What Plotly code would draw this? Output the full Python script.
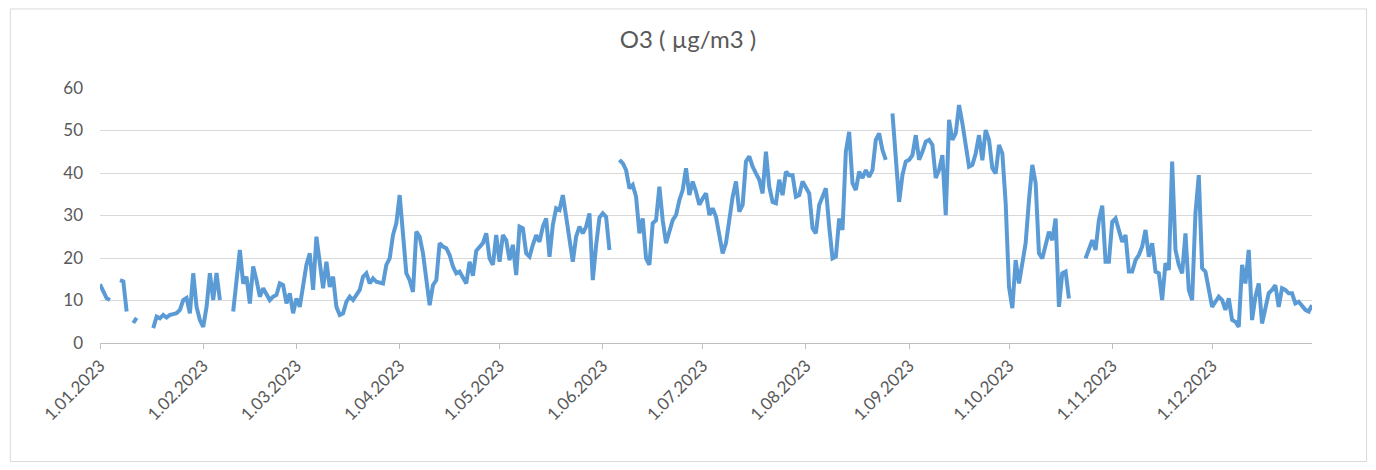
import pandas as pd
import plotly.graph_objects as go

# daily O3 values (µg/m3), None = missing day
jan = [13.8, 12, 10.5, 10.1, None, None, 14.8, 14.5, 7.4, None, 4.7, 5.9, None, None, None, None,
       3.5, 6.2, 5.8, 6.6, 6.0, 6.6, 6.8, 7.0, 7.8, 10.1, 10.6, 7.0, 16.4, 8.5, 5.4]
feb = [3.8, 8.5, 16.4, 10.1, 16.5, 10.1, None, None, None, 7.4, 15.6, 21.9, 14, 15.6, 9.3, 18,
       14.8, 10.9, 12.9, 11.7, 10.1, 10.9, 11.3, 14, 13.6, 9.3, 11.7, 7]
mar = [10.5, 8.5, 13.2, 18.4, 21.1, 12.5, 25, 19.5, 12.9, 19.1, 13.2, 15.6, 8.5, 6.6, 7, 9.7,
       10.9, 10.1, 11.3, 12.5, 15.6, 16.4, 14, 15.2, 14.4, 14.3, 14, 18.4, 19.9, 25.4, 28.2]
apr = [34.8, 25, 16.4, 14.8, 12, 26.2, 25, 21.1, 14, 8.9, 13.6, 14.8, 23.5, 22.7, 22.3, 20.7,
       18, 16.4, 16.8, 15.6, 14, 19.1, 15.8, 21.7, 22.7, 23.5, 25.8, 19.9, 18.4, 25.4]
may = [19.1, 25.4, 24.2, 19.5, 23.1, 16, 27.4, 27, 21.1, 20.3, 23.1, 25.4, 23.8, 27.4, 29.3, 20.3,
       27.8, 31.7, 31.3, 34.8, 29.7, 24.2, 19.1, 25, 27.4, 25.8, 27.4, 30.5, 14.8, 23, 29.5]
jun = [30.5, 29.7, 21.9, None, None, 43.1, 42.3, 40.7, 36.4, 37.2, 34.4, 25.8, 29.3, 19.9, 18.4,
       28.2, 28.9, 36.8, 28.9, 23.5, 26.2, 28.9, 30.1, 33.6, 36, 41.1, 34.8, 38, 35.6, 32.5]
jul = [34, 35.2, 30.1, 31.7, 29.7, 25, 21.1, 23.5, 28.9, 34.4, 38, 30.9, 32.5, 42.7, 43.9, 41.5,
       39.9, 38.4, 35.2, 45, 36.8, 33.2, 32.9, 38.4, 34.8, 40.3, 39.5, 39.5, 34.4, 34.8, 38]
aug = [36.8, 35.2, 27, 25.8, 32.5, 34.4, 36.4, 27.4, 19.9, 20.3, 29.3, 26.6, 45, 49.7, 37.6, 36,
       40.3, 38.8, 40.7, 39.1, 40.7, 47.8, 49.3, 45.4, 43.1, None, 54, 43.1, 33.2, 39.5, 42.7]
sep = [43.1, 44.2, 48.9, 43.1, 45, 47.4, 47.8, 46.6, 38.8, 40.7, 44.2, 30.1, 52.5, 47.8, 49.3, 56,
       51.7, 46.2, 41.5, 41.9, 44.6, 48.9, 43, 50.1, 47.8, 41.1, 39.9, 46.6, 44.6, 32.9]
oct_ = [13.2, 8.2, 19.5, 14, 19.5, 23.5, 33.6, 41.9, 37.6, 21.1, 19.9, 22.7, 26.2, 24.2, 29.3, 8.5,
        16.4, 16.8, 10.5, None, None, None, None, 19.9, 21.9, 24.2, 21.9, 28.9, 32.3, 19.1, 19.1]
nov = [28.5, 29.3, 26.2, 23.8, 25.4, 16.8, 16.8, 19.5, 20.7, 22.7, 26.6, 20.3, 23.5, 16.8, 16.4,
       10.1, 18.8, 17.2, 42.7, 21.9, 18.4, 16.4, 25.8, 12.5, 10.1, 30.5, 39.5, 17.6, 16.8, 13.2]
dec = [8.5, 9.7, 10.9, 10.1, 7.8, 10.5, 5.4, 5, 3.8, 18.4, 14, 21.9, 5.4, 10.9, 14, 4.6, 8.5,
       11.7, 12.5, 13.6, 8.5, 12.9, 12.5, 11.7, 11.7, 9.3, 9.7, 8.9, 7.8, 7.4, 8.9]

month_starts = ["2023-%02d-01" % m for m in range(1, 13)]
month_labels = ["1.%02d.2023" % m for m in range(1, 13)]

values = jan + feb + mar + apr + may + jun + jul + aug + sep + oct_ + nov + dec
dates = pd.date_range("2023-01-01", periods=len(values), freq="D")

grey = "#595959"
fig = go.Figure()
fig.add_trace(go.Scatter(
    x=dates, y=values, mode="lines",
    line=dict(color="#5b9bd5", width=4),
    connectgaps=False, showlegend=False,
))

# page body adds an 8px offset, so the figure is a bit smaller than the window
fig.update_layout(
    width=1360, height=455,
    margin=dict(l=92, r=56, t=80, b=120),
    paper_bgcolor="white", plot_bgcolor="white",
    font=dict(family="Lato, Open Sans, sans-serif", color=grey),
    title=dict(text="O3 ( µg/m3 )", x=0.5, xanchor="center", y=0.93, yanchor="middle",
               font=dict(size=24, color=grey)),
    shapes=[dict(type="rect", xref="paper", yref="paper",
                 x0=-0.074, x1=1.045, y0=-0.465, y1=1.31,
                 line=dict(color="#d9d9d9", width=1))],
)
fig.update_xaxes(
    range=["2023-01-01", "2023-12-31"],
    tickvals=month_starts, ticktext=month_labels, tickangle=-45,
    tickfont=dict(size=17, color=grey),
    showgrid=False, showline=True, linecolor="#bfbfbf", linewidth=1,
    ticks="outside", ticklen=5, tickcolor="#bfbfbf",
)
fig.update_yaxes(
    range=[0, 60], dtick=10, tickfont=dict(size=17, color=grey),
    showgrid=True, gridcolor="#d9d9d9", gridwidth=1,
    zeroline=False, showline=False, ticklabelstandoff=16,
)

fig.write_html("out.html")
